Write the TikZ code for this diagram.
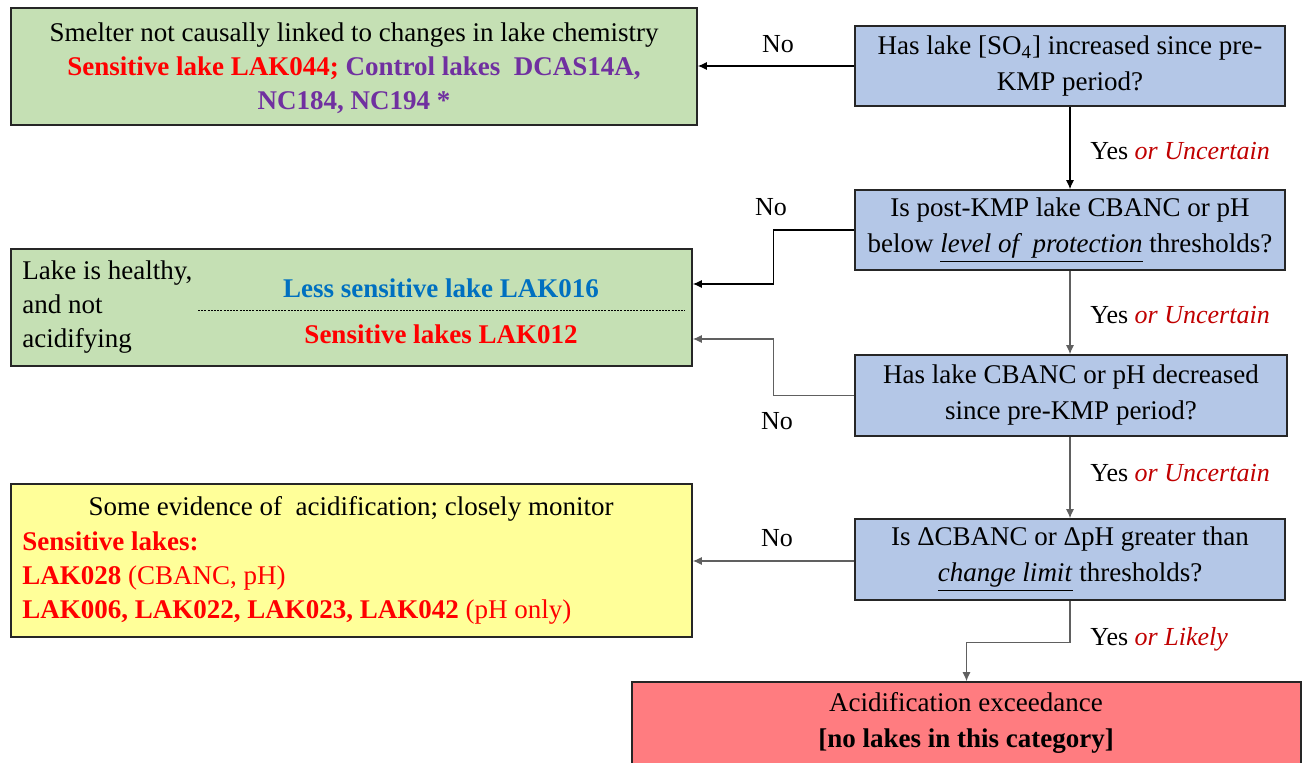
\documentclass[tikz,border=0pt]{standalone}
\usepackage{fontspec}
\setmainfont{Liberation Serif}
\usetikzlibrary{arrows.meta,calc}
\definecolor{boxgreen}{HTML}{C5E0B4}
\definecolor{boxblue}{HTML}{B4C7E7}
\definecolor{boxyellow}{HTML}{FFFF99}
\definecolor{boxred}{HTML}{FF7C80}
\definecolor{txtred}{HTML}{FF0000}
\definecolor{txtpurple}{HTML}{7030A0}
\definecolor{txtblue}{HTML}{0070C0}
\definecolor{darkred}{HTML}{C00000}
\definecolor{edgecol}{HTML}{262626}
\definecolor{linegray}{HTML}{606060}
\tikzset{
  box/.style={draw=edgecol, line width=0.8pt, rectangle, inner sep=0pt},
  qbox/.style={box, fill=boxblue, minimum width=215pt, minimum height=40pt,
     align=center, font=\fontsize{13.5}{18}\selectfont},
  txt/.style={inner sep=0pt, font=\fontsize{13.5}{17}\selectfont},
  lbl/.style={inner sep=0pt, font=\fontsize{13}{16}\selectfont},
  arr/.style={-{Latex[length=4.5pt,width=4pt]}, line width=0.6pt, black},
  arrg/.style={-{Latex[length=4.5pt,width=4pt]}, line width=0.6pt, linegray},
}
\newcommand{\yesor}[1]{Yes \textcolor{darkred}{\textit{or #1}}}
\begin{document}
\begin{tikzpicture}[x=0.5pt,y=-0.5pt]
\useasboundingbox (0,0) rectangle (1302,763);
% boxes
\node[box, fill=boxgreen, minimum width=343pt, minimum height=58.5pt] (A) at (354,66.5) {};
\node[box, fill=boxgreen, minimum width=340.5pt, minimum height=58.5pt] (B) at (351.5,307.5) {};
\node[box, fill=boxyellow, minimum width=340.5pt, minimum height=76.5pt] (C) at (351.5,560.5) {};
\node[box, fill=boxred, minimum width=334.5pt, minimum height=45pt] (D) at (966.5,727) {};
\node[qbox] (Q1) at (1070,66) {Has lake [SO\textsubscript{4}] increased since pre-\\KMP period?};
\node[qbox] (Q2) at (1070,230) {Is post-KMP lake CBANC or pH\\below \underline{\textit{level of\ \ protection}} thresholds?};
\node[qbox, minimum width=216pt, minimum height=40.5pt] (Q3) at (1071,395.5) {Has lake CBANC or pH decreased\\since pre-KMP period?};
\node[qbox, minimum height=40.5pt] (Q4) at (1070,559.5) {Is \char"0394 CBANC or \char"0394 pH greater than\\\underline{\textit{change limit}} thresholds?};
% texts in A
\node[txt, align=center] (Atext) at (354,68) {Smelter not causally linked to changes in lake chemistry\\
  \textbf{\textcolor{txtred}{Sensitive lake LAK044;} \textcolor{txtpurple}{Control lakes\ \ DCAS14A,}}\\
  \textbf{\textcolor{txtpurple}{NC184, NC194 *}}};
% texts in B
\node[txt, align=left, anchor=west] (Bleft) at (22,307) {Lake is healthy,\\and not\\acidifying};
\node[txt] (Bblue) at (441,288) {\textbf{\textcolor{txtblue}{Less sensitive lake LAK016}}};
\node[txt] (Bred) at (441,334) {\textbf{\textcolor{txtred}{Sensitive lakes LAK012}}};
\coordinate (dl1) at (198,311);
\coordinate (dl2) at (685,311);
\draw[line width=0.5pt, dash pattern=on 1pt off 0.6pt] (dl1) -- (dl2);
% texts in C
\node[txt] (Ctitle) at (351,509) {Some evidence of\ \ acidification; closely monitor};
\node[txt, align=left, anchor=west, text=txtred] (Clist) at (22,578) {\textbf{Sensitive lakes:}\\
  \textbf{LAK028} (CBANC, pH)\\
  \textbf{LAK006, LAK022, LAK023, LAK042} (pH only)};
% texts in D
\node[txt, align=center, font=\fontsize{13.5}{18}\selectfont] (Dtext) at (966,723) {Acidification exceedance\\\textbf{[no lakes in this category]}};
% connectors
\coordinate (q4w) at ($(Q4.west)+(0,1.5)$);
\draw[arr] (Q1.west) -- (Q1.west -| A.east);
\draw[arr] (Q1.south) -- (Q2.north);
\draw[arr] (Q2.west) -- ++(-81,0) |- ($(B.east)+(0,-23.5)$);
\draw[arrg] (Q2.south) -- (Q3.north -| Q2.south);
\draw[arrg] (Q3.west) -- ++(-81,0) |- ($(B.east)+(0,31.5)$);
\draw[arrg] (Q3.south -| Q2.south) -- (Q4.north);
\draw[arrg] (q4w) -- (q4w -| C.east);
\draw[arrg] (Q4.south) -- ++(0,42) -| (D.north);
% labels
\node[lbl] (n1) at (778,44) {No};
\node[lbl] (n2) at (771,207) {No};
\node[lbl] (n3) at (777,421) {No};
\node[lbl] (n4) at (777,538) {No};
\node[lbl, anchor=west] (y1) at (1090,151) {\yesor{Uncertain}};
\node[lbl, anchor=west] (y2) at (1090,315) {\yesor{Uncertain}};
\node[lbl, anchor=west] (y3) at (1090,473) {\yesor{Uncertain}};
\node[lbl, anchor=west] (y4) at (1090,639) {\yesor{Likely}};
\end{tikzpicture}
\end{document}
